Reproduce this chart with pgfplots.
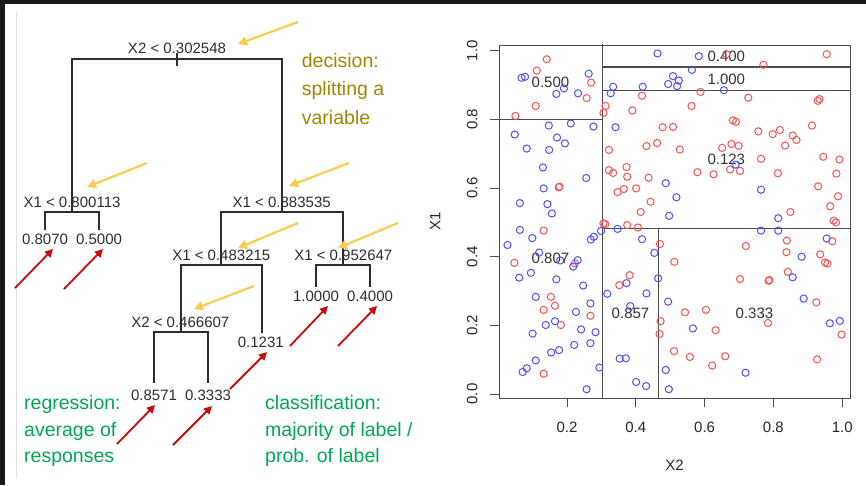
\documentclass[border=0pt]{standalone}
\usepackage{pgfplots}
\pgfplotsset{compat=1.18}
\usepackage{fontspec}
\setmainfont{Liberation Sans}
\usetikzlibrary{arrows.meta}
\definecolor{olivetxt}{RGB}{163,134,0}
\definecolor{greentxt}{RGB}{0,168,80}
\definecolor{yarrow}{RGB}{250,205,80}
\definecolor{rarrow}{RGB}{200,10,10}
\definecolor{ptred}{RGB}{255,80,80}
\definecolor{ptblue}{RGB}{80,80,255}
\definecolor{darkbg}{RGB}{24,24,24}
\definecolor{treegray}{RGB}{45,45,45}
\begin{document}
\begin{tikzpicture}
%================ left panel (tree), pixel coordinates =================
\begin{axis}[at={(433pt,242.5pt)}, anchor=center, width=866pt, height=485pt, scale only axis,
  xmin=0, xmax=866, ymin=0, ymax=485, y dir=reverse, hide axis, clip=false, no markers]
\fill[darkbg] (axis cs:0,0) rectangle (axis cs:866,485);
\fill[white] (axis cs:5,4) rectangle (axis cs:866,485);
\draw[black!12, line width=0.8pt] (axis cs:16,12) -- (axis cs:16,478);
% tree segments
\addplot[treegray, line width=1.3pt] coordinates {(72,212) (72,59) (282,59) (282,212)};
\addplot[treegray, line width=1.3pt] coordinates {(177,53) (177,66)};
\addplot[treegray, line width=1.3pt] coordinates {(45,230) (45,212) (99,212) (99,230)};
\addplot[treegray, line width=1.3pt] coordinates {(221,265) (221,212) (343,212) (343,265)};
\addplot[treegray, line width=1.3pt] coordinates {(181,332) (181,265) (262,265) (262,333)};
\addplot[treegray, line width=1.3pt] coordinates {(316,287) (316,265) (370,265) (370,287)};
\addplot[treegray, line width=1.3pt] coordinates {(154,383) (154,332) (208,332) (208,383)};
% node labels
\begin{scope}[every node/.style={font=\fontsize{15}{18}\selectfont, text=treegray, inner sep=0pt}]
\node at (axis cs:177,48) {X2 < 0.302548};
\node at (axis cs:72,202.3) {X1 < 0.800113};
\node at (axis cs:281.7,202.3) {X1 < 0.883535};
\node at (axis cs:221.3,255.8) {X1 < 0.483215};
\node at (axis cs:343.3,255.8) {X1 < 0.952647};
\node at (axis cs:180.3,322.2) {X2 < 0.466607};
\node at (axis cs:45,239.3) {0.8070};
\node at (axis cs:99,239.3) {0.5000};
\node at (axis cs:316,296.3) {1.0000};
\node at (axis cs:370,296.3) {0.4000};
\node at (axis cs:260.8,342.2) {0.1231};
\node at (axis cs:154,395.3) {0.8571};
\node at (axis cs:208,395.3) {0.3333};
\end{scope}
% annotations
\begin{scope}[every node/.style={font=\fontsize{19.5}{24}\selectfont, inner sep=0pt, anchor=base west}]
\node[text=olivetxt] at (axis cs:301.7,67.3) {decision:};
\node[text=olivetxt] at (axis cs:301.7,95.5) {splitting a};
\node[text=olivetxt] at (axis cs:301.7,124) {variable};
\node[text=greentxt] at (axis cs:24,409.3) {regression:};
\node[text=greentxt] at (axis cs:24,436) {average of};
\node[text=greentxt] at (axis cs:24,462.7) {responses};
\node[text=greentxt] at (axis cs:265,409.3) {classification:};
\node[text=greentxt] at (axis cs:265,436) {majority of label /};
\node[text=greentxt] at (axis cs:265,462.7) {prob. of label};
\end{scope}
% arrows
\begin{scope}[yarrow, line width=2.2pt, -{Triangle[length=9pt,width=9pt]}]
\draw (axis cs:298,22) -- (axis cs:238,44);
\draw (axis cs:147,163) -- (axis cs:87,187);
\draw (axis cs:349,163) -- (axis cs:289,186);
\draw (axis cs:298,223) -- (axis cs:238,248);
\draw (axis cs:398,223) -- (axis cs:338,248);
\draw (axis cs:254,286) -- (axis cs:194,309);
\end{scope}
\begin{scope}[rarrow, line width=1.8pt, -{Triangle[length=8pt,width=8pt]}]
\draw (axis cs:15,288) -- (axis cs:53,249);
\draw (axis cs:64,289) -- (axis cs:103,249);
\draw (axis cs:117,444) -- (axis cs:155,405);
\draw (axis cs:173,445) -- (axis cs:212,406);
\draw (axis cs:230,389) -- (axis cs:267,352);
\draw (axis cs:290,346) -- (axis cs:328,306);
\draw (axis cs:338,346) -- (axis cs:377,306);
\end{scope}
\end{axis}
%================ right panel: scatter =================
\begin{axis}[at={(674.5pt,263.35pt)}, anchor=center, width=351pt, height=353.3pt, scale only axis,
  xmin=0.0023, xmax=1.0227, ymin=-0.0125, ymax=1.0166,
  axis line style={black!70, line width=0.9pt},
  tick style={black!70, line width=0.9pt},
  tick align=outside, major tick length=9pt,
  xtick pos=bottom, ytick pos=left,
  xtick={0.2,0.4,0.6,0.8,1.0}, xticklabels={0.2,0.4,0.6,0.8,1.0},
  ytick={0,0.2,0.4,0.6,0.8,1.0}, yticklabels={0.0,0.2,0.4,0.6,0.8,1.0},
  tick label style={font=\fontsize{15}{18}\selectfont, text=black!85},
  xticklabel style={yshift=-11pt},
  yticklabel style={xshift=-9pt, rotate=90, anchor=south},
  xlabel={X2}, ylabel={X1},
  label style={font=\fontsize{15}{18}\selectfont, text=black!85},
  xlabel style={at={(axis description cs:0.5,-0.19)}, anchor=center},
  ylabel style={at={(axis description cs:-0.182,0.5)}, anchor=center},
  /pgf/number format/assume math mode=true]
% split lines
\addplot[black!70, line width=1.1pt, mark=none] coordinates {(0.3025,-0.1) (0.3025,1.1)};
\addplot[black!70, line width=1.1pt, mark=none] coordinates {(-0.1,0.8001) (0.3025,0.8001)};
\addplot[black!70, line width=1.1pt, mark=none] coordinates {(0.3025,0.8835) (1.1,0.8835)};
\addplot[black!70, line width=1.1pt, mark=none] coordinates {(0.3025,0.9526) (1.1,0.9526)};
\addplot[black!70, line width=1.1pt, mark=none] coordinates {(0.3025,0.4832) (1.1,0.4832)};
\addplot[black!70, line width=1.1pt, mark=none] coordinates {(0.4666,-0.1) (0.4666,0.4832)};
% red points
\addplot[only marks, mark=o, mark size=3.6pt, color=ptred, mark options={line width=1pt}] table {
x y
0.141 0.975
0.112 0.942
0.270 0.907
0.257 0.862
0.109 0.839
0.050 0.810
0.176 0.602
0.178 0.604
0.663 0.990
0.955 0.990
0.771 0.959
0.588 0.880
0.418 0.869
0.727 0.863
0.929 0.854
0.934 0.859
0.312 0.839
0.306 0.819
0.390 0.826
0.562 0.839
0.682 0.797
0.691 0.793
0.912 0.782
0.756 0.765
0.798 0.757
0.819 0.769
0.856 0.753
0.867 0.740
0.834 0.724
0.478 0.777
0.508 0.778
0.462 0.731
0.431 0.722
0.322 0.711
0.528 0.712
0.651 0.717
0.678 0.728
0.699 0.723
0.945 0.691
0.992 0.683
0.764 0.685
0.674 0.654
0.703 0.650
0.322 0.652
0.334 0.644
0.373 0.661
0.375 0.633
0.579 0.646
0.626 0.640
0.437 0.630
0.813 0.643
0.983 0.642
0.930 0.605
0.365 0.597
0.401 0.599
0.347 0.588
0.988 0.576
0.443 0.560
0.414 0.530
0.965 0.547
0.849 0.530
0.132 0.476
0.047 0.382
0.223 0.381
0.153 0.283
0.165 0.257
0.132 0.245
0.268 0.228
0.182 0.201
0.132 0.059
0.306 0.497
0.311 0.495
0.375 0.492
0.406 0.485
0.470 0.437
0.512 0.385
0.382 0.346
0.352 0.317
0.472 0.212
0.469 0.175
0.543 0.238
0.604 0.245
0.632 0.186
0.511 0.125
0.557 0.108
0.660 0.110
0.622 0.083
0.703 0.335
0.720 0.431
0.839 0.447
0.838 0.413
0.842 0.356
0.786 0.330
0.788 0.332
0.784 0.207
0.925 0.267
0.936 0.407
0.950 0.383
0.957 0.380
0.971 0.445
0.998 0.173
0.927 0.101
0.975 0.505
0.982 0.500
};
% blue points
\addplot[only marks, mark=o, mark size=3.6pt, color=ptblue, mark options={line width=1pt}] table {
x y
0.068 0.921
0.078 0.924
0.263 0.933
0.191 0.890
0.169 0.874
0.232 0.876
0.048 0.756
0.147 0.782
0.211 0.788
0.277 0.779
0.083 0.715
0.171 0.747
0.194 0.730
0.148 0.711
0.130 0.660
0.256 0.629
0.132 0.599
0.063 0.556
0.143 0.553
0.156 0.526
0.463 0.992
0.583 0.984
0.563 0.944
0.508 0.926
0.494 0.903
0.525 0.913
0.520 0.897
0.334 0.895
0.420 0.895
0.327 0.876
0.656 0.885
0.341 0.777
0.690 0.668
0.487 0.614
0.518 0.573
0.764 0.595
0.497 0.519
0.814 0.512
0.063 0.478
0.027 0.434
0.099 0.454
0.119 0.412
0.095 0.353
0.061 0.339
0.180 0.389
0.231 0.390
0.218 0.371
0.169 0.334
0.247 0.316
0.109 0.283
0.226 0.239
0.268 0.264
0.138 0.201
0.165 0.212
0.241 0.188
0.283 0.180
0.100 0.176
0.221 0.143
0.268 0.148
0.177 0.128
0.154 0.121
0.109 0.098
0.083 0.075
0.071 0.064
0.294 0.077
0.257 0.014
0.269 0.450
0.278 0.458
0.299 0.475
0.347 0.481
0.418 0.451
0.454 0.411
0.373 0.323
0.317 0.292
0.431 0.293
0.384 0.256
0.465 0.337
0.494 0.269
0.566 0.191
0.353 0.103
0.371 0.104
0.401 0.035
0.430 0.023
0.487 0.070
0.496 0.014
0.719 0.062
0.764 0.476
0.814 0.476
0.856 0.340
0.882 0.400
0.888 0.278
0.955 0.453
0.964 0.206
0.993 0.213
};
% region values
\begin{scope}[every node/.style={font=\fontsize{15}{18}\selectfont, text=black!80, inner sep=0pt}]
\node at (axis cs:0.152,0.908) {0.500};
\node at (axis cs:0.663,0.985) {0.400};
\node at (axis cs:0.663,0.918) {1.000};
\node at (axis cs:0.663,0.683) {0.123};
\node at (axis cs:0.152,0.394) {0.807};
\node at (axis cs:0.3846,0.235) {0.857};
\node at (axis cs:0.745,0.235) {0.333};
\end{scope}
\end{axis}
\end{tikzpicture}
\end{document}
